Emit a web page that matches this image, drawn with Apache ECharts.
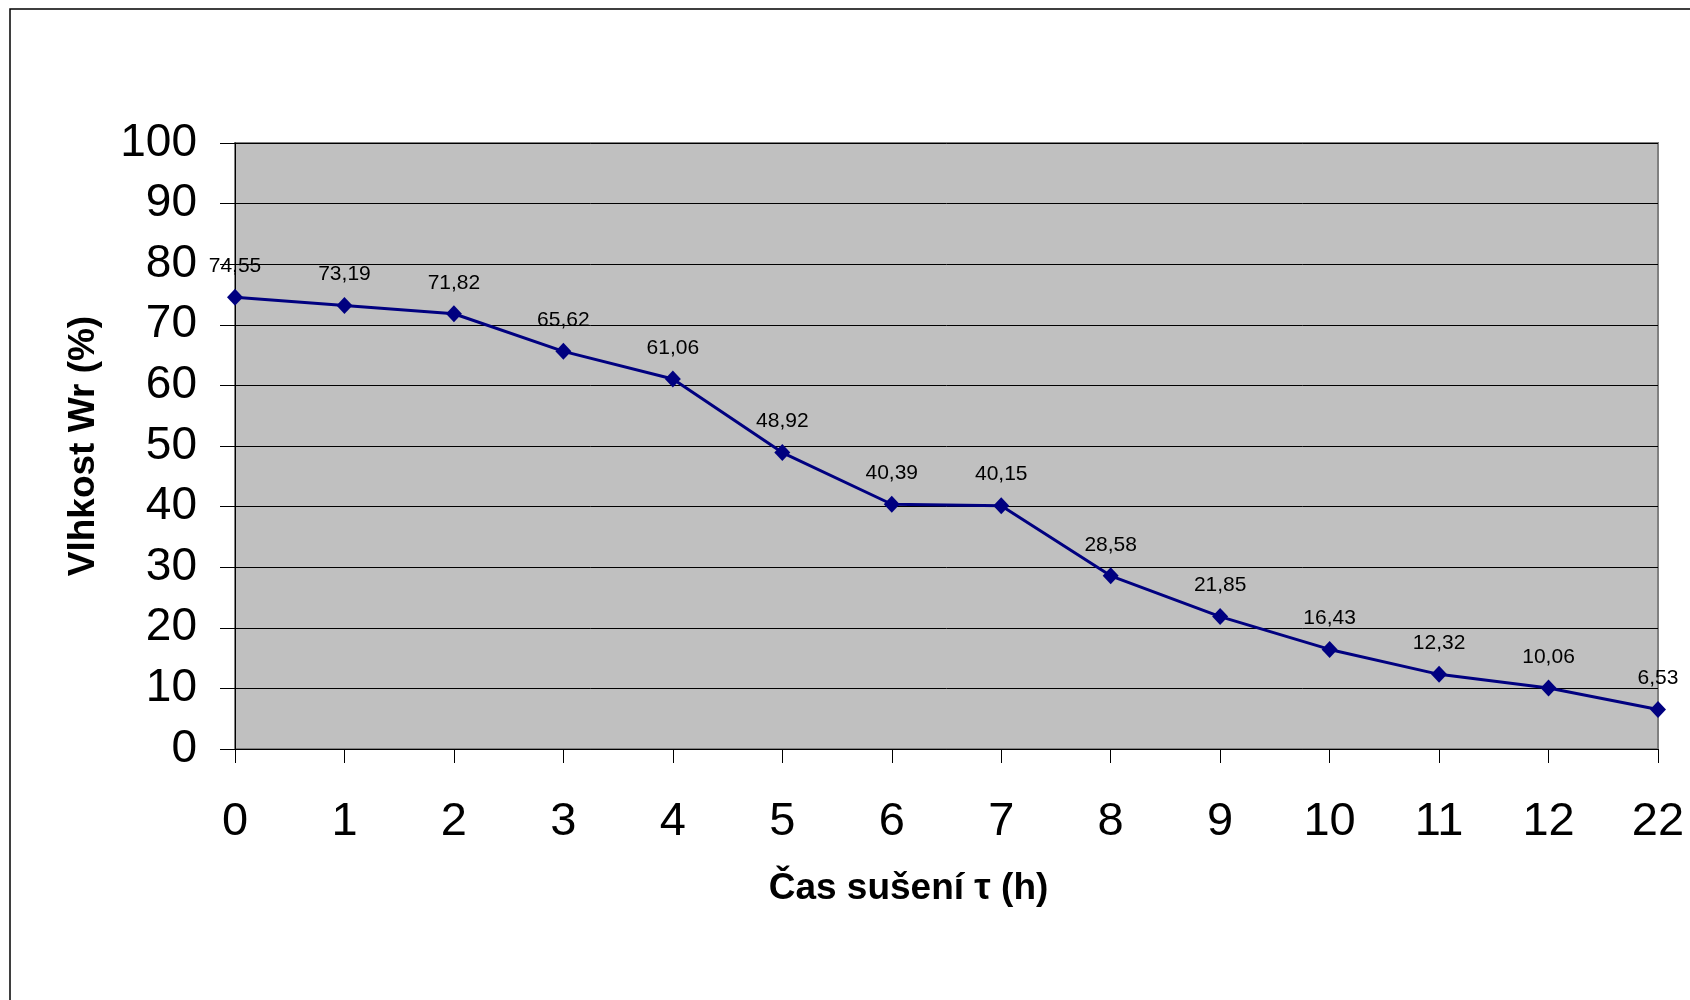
<!DOCTYPE html>
<html>
<head>
<meta charset="utf-8">
<title>Vlhkost Wr – čas sušení</title>
<script src="https://cdn.jsdelivr.net/npm/echarts@6/dist/echarts.min.js"></script>
<style>
  html, body { margin: 0; padding: 0; background: #ffffff; }
  #chart { width: 1690px; height: 1000px; }
</style>
</head>
<body>
<div id="chart"></div>
<script>
// drying time (h) and measured moisture (%)
const hours = ['0', '1', '2', '3', '4', '5', '6', '7', '8', '9', '10', '11', '12', '22'];
const moisture = [74.55, 73.19, 71.82, 65.62, 61.06, 48.92, 40.39, 40.15, 28.58, 21.85, 16.43, 12.32, 10.06, 6.53];
const yTicks = [0, 10, 20, 30, 40, 50, 60, 70, 80, 90, 100];

const chart = echarts.init(document.getElementById('chart'), null, { renderer: 'canvas' });
const font = 'Liberation Sans, Arial, sans-serif';

chart.setOption({
  animation: false,
  backgroundColor: '#ffffff',
  textStyle: { fontFamily: font },
  graphic: [
    {
      type: 'rect',
      z: -1,
      shape: { x: 10, y: 9, width: 1720, height: 1040 },
      style: { fill: 'none', stroke: '#000000', lineWidth: 1.5 }
    }
  ],
  grid: {
    left: 235, top: 143, width: 1423, height: 606,
    show: true,
    backgroundColor: '#c0c0c0',
    borderColor: '#808080',
    borderWidth: 2
  },
  xAxis: {
    type: 'category',
    data: hours,
    boundaryGap: false,
    axisLine: { show: true, lineStyle: { color: '#000000', width: 1 } },
    axisTick: { show: true, alignWithLabel: true, length: 14, lineStyle: { color: '#000000' } },
    axisLabel: { fontSize: 47, color: '#000000', margin: 50, fontFamily: font },
    splitLine: { show: false },
    name: 'Čas sušení τ (h)',
    nameLocation: 'middle',
    nameGap: 121,
    nameTextStyle: { fontSize: 37, fontWeight: 'bold', color: '#000000', fontFamily: font, padding: [0, 76, 0, 0] }
  },
  yAxis: {
    type: 'value',
    min: yTicks[0],
    max: yTicks[yTicks.length - 1],
    interval: 10,
    axisLine: { show: true, lineStyle: { color: '#000000', width: 1 } },
    axisTick: { show: true, length: 15, lineStyle: { color: '#000000' } },
    axisLabel: { fontSize: 46, color: '#000000', margin: 38, fontFamily: font, padding: [4, 0, 0, 0] },
    splitLine: { show: true, lineStyle: { color: '#000000', width: 1 } },
    name: 'Vlhkost Wr (%)',
    nameLocation: 'middle',
    nameRotate: 90,
    nameGap: 133,
    nameTextStyle: { fontSize: 37, fontWeight: 'bold', color: '#000000', fontFamily: font }
  },
  series: [
    {
      type: 'line',
      data: moisture,
      symbol: 'diamond',
      symbolSize: [16, 17],
      showAllSymbol: true,
      lineStyle: { color: '#000080', width: 3 },
      itemStyle: { color: '#000080' },
      label: {
        show: true,
        position: 'top',
        distance: 12,
        fontSize: 21,
        color: '#000000',
        fontFamily: font,
        formatter: p => p.value.toFixed(2).replace('.', ',')
      },
      clip: false
    }
  ]
});
</script>
</body>
</html>
